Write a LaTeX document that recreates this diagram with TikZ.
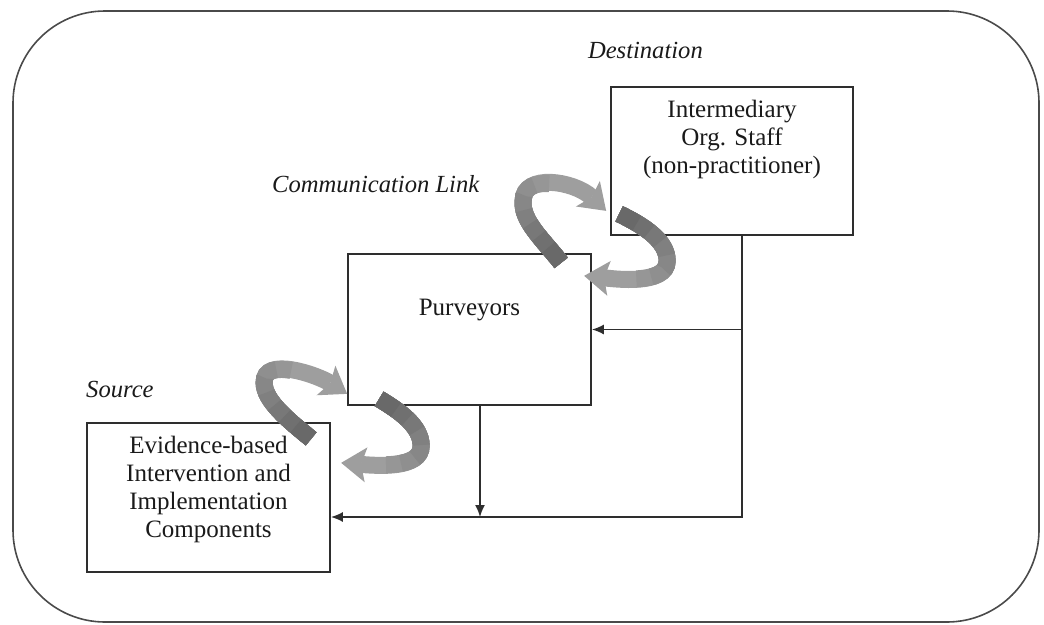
\documentclass[tikz,border=0pt]{standalone}
\usepackage{fontspec}
\setmainfont{Liberation Serif}
\usetikzlibrary{arrows.meta}
\definecolor{ink}{HTML}{1A1A1A}
\definecolor{linec}{HTML}{2E2E2E}
\definecolor{framec}{HTML}{4A4A4A}
\tikzset{
  boxn/.style={draw=linec, line width=1.7pt, fill=white, inner sep=0pt},
  txt/.style={inner sep=0pt, text=ink, font=\fontsize{25}{28}\selectfont},
  lbl/.style={inner sep=0pt, text=ink, font=\fontsize{24.6}{28}\selectfont\itshape},
  conn/.style={draw=linec, line width=1.6pt},
  connarr/.style={conn, -{Latex[length=12pt,width=10pt]}},
  band/.style={line width=17pt, line cap=butt},
}
\newcommand\curlarrow[1]{%
  \draw[band, draw=black!38, -{Stealth[length=25pt,width=35pt,inset=5pt,line width=0pt]}] #1;
  \foreach \L/\g in {110/41,95/44,80/47,65/50,50/53,35/56,20/59}{\draw[band, draw=black!\g, dash pattern=on \L pt off 3000pt] #1;}
}
\begin{document}
\begin{tikzpicture}[x=1pt,y=-1pt]
\useasboundingbox (0,0) rectangle (1044,624);
\node[draw=framec, line width=1.6pt, rounded corners=92pt, minimum width=1026pt, minimum height=611pt, inner sep=0pt] (frame) at (526,316.5) {};

\node[boxn, minimum width=242pt, minimum height=148pt] (dst) at (732,161) {};
\node[boxn, minimum width=243pt, minimum height=151pt] (pur) at (469.5,329.5) {};
\node[boxn, minimum width=243pt, minimum height=149pt] (evi) at (208.5,497.5) {};

\node[txt, anchor=base] (dsttxt) at (732,117) {\begin{tabular}[t]{@{}c@{}}Intermediary\\Org. Staff\\(non-practitioner)\end{tabular}};
\node[txt, anchor=base] (purtxt) at (469.5,315) {Purveyors};
\node[txt, anchor=base] (evitxt) at (208.5,453) {\begin{tabular}[t]{@{}c@{}}Evidence-based\\Intervention and\\Implementation\\Components\end{tabular}};

\node[lbl, anchor=base east] (destl) at (703,58) {Destination};
\node[lbl, anchor=base west] (comml) at (272,192) {Communication Link};
\node[lbl, anchor=base west] (srcl) at (86,397) {Source};

\coordinate (tr) at (742,517);
\coordinate (tb) at (480,517);
\draw[connarr] (dst.south -| tr) -- (tr) -- (evi.east |- tr);
\draw[connarr] (pur.east -| tr) -- (pur.east);
\draw[connarr] (pur.south -| tb) -- (tb);

\begin{scope}[shift={(dst.south west)}]
\curlarrow{(-49,27) .. controls (-66,5) and (-89,-15) .. (-87,-35) .. controls (-87,-63) and (-36,-55) .. (-4,-25)}
\curlarrow{(9,-22) .. controls (34,-10) and (57,5) .. (57,25) .. controls (57,50) and (4,43) .. (-26,40)}
\end{scope}
\begin{scope}[shift={(pur.south west)}]
\curlarrow{(-36,33) .. controls (-58,15) and (-83,-5) .. (-83,-23) .. controls (-84,-50) and (-30,-31) .. (0,-12)}
\curlarrow{(32,-7) .. controls (52,5) and (74,20) .. (74,40) .. controls (74,63) and (32,60) .. (-6,57)}
\end{scope}
\end{tikzpicture}
\end{document}
